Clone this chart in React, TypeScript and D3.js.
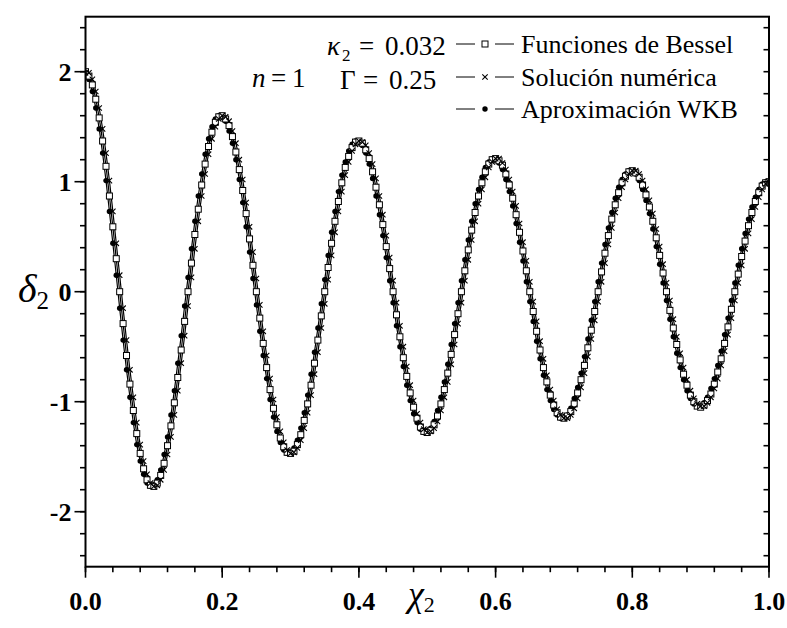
import React from 'react';
import * as d3 from 'd3';

// sampling grid of the horizontal variable χ2
const chi: number[] = d3.range(201).map((i) => +(i * 0.005).toFixed(3));

const bessel: number[] = [
  2.00, 1.96, 1.88, 1.75, 1.58, 1.37, 1.14, 0.87, 0.59, 0.30, 0, -0.29, -0.58, -0.84, -1.08, -1.29, -1.47, -1.61, -1.71, -1.76,
  -1.77, -1.74, -1.67, -1.56, -1.40, -1.22, -1.01, -0.78, -0.53, -0.27, 0, 0.26, 0.52, 0.75, 0.97, 1.16, 1.32, 1.45, 1.54, 1.59,
  1.60, 1.57, 1.51, 1.41, 1.27, 1.11, 0.92, 0.71, 0.48, 0.24, 0, -0.24, -0.47, -0.69, -0.89, -1.06, -1.21, -1.33, -1.41, -1.46,
  -1.47, -1.45, -1.39, -1.30, -1.17, -1.02, -0.85, -0.65, -0.44, -0.22, 0, 0.22, 0.44, 0.64, 0.82, 0.99, 1.13, 1.23, 1.31, 1.36,
  1.37, 1.35, 1.29, 1.21, 1.09, 0.95, 0.79, 0.61, 0.41, 0.21, 0, -0.21, -0.41, -0.60, -0.77, -0.92, -1.05, -1.15, -1.23, -1.27,
  -1.28, -1.26, -1.21, -1.13, -1.02, -0.89, -0.74, -0.57, -0.39, -0.20, 0, 0.19, 0.38, 0.56, 0.72, 0.87, 0.99, 1.09, 1.16, 1.20,
  1.21, 1.19, 1.15, 1.07, 0.97, 0.85, 0.70, 0.54, 0.37, 0.19, 0, -0.18, -0.36, -0.53, -0.69, -0.82, -0.94, -1.03, -1.10, -1.14,
  -1.15, -1.13, -1.09, -1.02, -0.92, -0.80, -0.67, -0.51, -0.35, -0.18, 0, 0.18, 0.35, 0.51, 0.66, 0.79, 0.90, 0.99, 1.05, 1.09,
  1.10, 1.08, 1.04, 0.97, 0.88, 0.77, 0.64, 0.49, 0.33, 0.17, 0, -0.17, -0.33, -0.48, -0.62, -0.75, -0.85, -0.94, -1.00, -1.04,
  -1.05, -1.03, -0.99, -0.93, -0.84, -0.73, -0.61, -0.47, -0.32, -0.16, 0, 0.16, 0.32, 0.46, 0.60, 0.72, 0.82, 0.90, 0.96, 0.99,
  1.00,
];

const numerica: number[] = [
  1.99, 1.99, 1.93, 1.82, 1.67, 1.48, 1.26, 1.01, 0.73, 0.44, 0.15, -0.15, -0.44, -0.71, -0.96, -1.19, -1.39, -1.54, -1.66, -1.74,
  -1.77, -1.76, -1.71, -1.62, -1.48, -1.32, -1.12, -0.90, -0.65, -0.40, -0.13, 0.13, 0.39, 0.64, 0.87, 1.07, 1.25, 1.39, 1.50, 1.57,
  1.60, 1.59, 1.55, 1.46, 1.35, 1.20, 1.02, 0.81, 0.59, 0.36, 0.12, -0.12, -0.36, -0.58, -0.79, -0.98, -1.14, -1.27, -1.37, -1.44,
  -1.47, -1.46, -1.42, -1.35, -1.24, -1.10, -0.94, -0.75, -0.55, -0.33, -0.11, 0.11, 0.33, 0.54, 0.73, 0.91, 1.06, 1.18, 1.28, 1.34,
  1.37, 1.36, 1.33, 1.26, 1.16, 1.03, 0.87, 0.70, 0.51, 0.31, 0.10, -0.10, -0.31, -0.50, -0.68, -0.85, -0.99, -1.11, -1.19, -1.25,
  -1.28, -1.27, -1.24, -1.18, -1.08, -0.96, -0.82, -0.66, -0.48, -0.29, -0.10, 0.10, 0.29, 0.47, 0.64, 0.80, 0.93, 1.04, 1.13, 1.18,
  1.21, 1.21, 1.17, 1.11, 1.02, 0.91, 0.78, 0.62, 0.45, 0.28, 0.09, -0.09, -0.27, -0.45, -0.61, -0.76, -0.89, -0.99, -1.07, -1.12,
  -1.15, -1.15, -1.12, -1.06, -0.97, -0.87, -0.74, -0.59, -0.43, -0.26, -0.09, 0.09, 0.26, 0.43, 0.58, 0.72, 0.85, 0.95, 1.02, 1.07,
  1.10, 1.10, 1.07, 1.01, 0.93, 0.83, 0.71, 0.57, 0.41, 0.25, 0.08, -0.08, -0.25, -0.41, -0.56, -0.69, -0.80, -0.90, -0.97, -1.02,
  -1.04, -1.04, -1.01, -0.96, -0.88, -0.79, -0.67, -0.54, -0.39, -0.24, -0.08, 0.08, 0.24, 0.39, 0.53, 0.66, 0.77, 0.86, 0.93, 0.98,
  1.00,
];

const wkb: number[] = [
  1.99, 1.93, 1.82, 1.67, 1.48, 1.26, 1.01, 0.73, 0.44, 0.15, -0.15, -0.44, -0.71, -0.96, -1.19, -1.39, -1.54, -1.66, -1.74, -1.77,
  -1.76, -1.71, -1.62, -1.48, -1.32, -1.12, -0.90, -0.65, -0.40, -0.13, 0.13, 0.39, 0.64, 0.87, 1.07, 1.25, 1.39, 1.50, 1.57, 1.60,
  1.59, 1.55, 1.46, 1.35, 1.20, 1.02, 0.81, 0.59, 0.36, 0.12, -0.12, -0.36, -0.58, -0.79, -0.98, -1.14, -1.27, -1.37, -1.44, -1.47,
  -1.46, -1.42, -1.35, -1.24, -1.10, -0.94, -0.75, -0.55, -0.33, -0.11, 0.11, 0.33, 0.54, 0.73, 0.91, 1.06, 1.18, 1.28, 1.34, 1.37,
  1.36, 1.33, 1.26, 1.16, 1.03, 0.87, 0.70, 0.51, 0.31, 0.10, -0.10, -0.31, -0.50, -0.68, -0.85, -0.99, -1.11, -1.19, -1.25, -1.28,
  -1.27, -1.24, -1.18, -1.08, -0.96, -0.82, -0.66, -0.48, -0.29, -0.10, 0.10, 0.29, 0.47, 0.64, 0.80, 0.93, 1.04, 1.13, 1.18, 1.21,
  1.21, 1.17, 1.11, 1.02, 0.91, 0.78, 0.62, 0.45, 0.28, 0.09, -0.09, -0.27, -0.45, -0.61, -0.76, -0.89, -0.99, -1.07, -1.12, -1.15,
  -1.15, -1.12, -1.06, -0.97, -0.87, -0.74, -0.59, -0.43, -0.26, -0.09, 0.09, 0.26, 0.43, 0.58, 0.72, 0.85, 0.95, 1.02, 1.07, 1.10,
  1.10, 1.07, 1.01, 0.93, 0.83, 0.71, 0.57, 0.41, 0.25, 0.08, -0.08, -0.25, -0.41, -0.56, -0.69, -0.80, -0.90, -0.97, -1.02, -1.04,
  -1.04, -1.01, -0.96, -0.88, -0.79, -0.67, -0.54, -0.39, -0.24, -0.08, 0.08, 0.24, 0.39, 0.53, 0.66, 0.77, 0.86, 0.93, 0.98, 1.00,
  1.00,
];

const xTicks = [0, 0.2, 0.4, 0.6, 0.8, 1.0];
const xTickLabels = ['0.0', '0.2', '0.4', '0.6', '0.8', '1.0'];
const yTicks = [-2, -1, 0, 1, 2];
const yTickLabels = ['-2', '-1', '0', '1', '2'];
const legendLabels = ['Funciones de Bessel', 'Solución numérica', 'Aproximación WKB'];
const annotation = { n: '1', kappa: '0.032', gamma: '0.25' };

const W = 787;
const H = 628;
const L = 85.5, R = 769, T = 16.7, B = 566.7;
const FONT = '"Liberation Serif", "Times New Roman", serif';

const x = d3.scaleLinear().domain([0, 1]).range([L, R]);
const y = d3.scaleLinear().domain([-2.5, 2.5]).range([B, T]);

const xMinor = d3.range(0, 1.0001, 0.04);
const yMinor = d3.range(-2.4, 2.4001, 0.2);

function Square({ cx, cy }: { cx: number; cy: number }) {
  return <rect x={cx - 3} y={cy - 3} width={6} height={6} fill="white" stroke="black" strokeWidth={1} />;
}
function Cross({ cx, cy }: { cx: number; cy: number }) {
  const s = 2.7;
  return <path d={`M${cx - s},${cy - s}L${cx + s},${cy + s}M${cx - s},${cy + s}L${cx + s},${cy - s}`} stroke="black" strokeWidth={1.1} />;
}
function Dot({ cx, cy }: { cx: number; cy: number }) {
  return <circle cx={cx} cy={cy} r={2.7} fill="black" />;
}

export default function App() {
  const line = d3
    .line<number>()
    .x((_, i) => x(chi[i]))
    .y((d) => y(d))
    .curve(d3.curveCatmullRom);

  const legendY = [44, 77, 109];

  return (
    <svg width={W} height={H} style={{ position: 'absolute', left: 0, top: 0, background: 'white' }} fontFamily={FONT}>
      <rect x={0} y={0} width={W} height={H} fill="white" />
      <defs>
        <clipPath id="plot">
          <rect x={L} y={T} width={R - L} height={B - T} />
        </clipPath>
      </defs>

      {/* curves */}
      <g clipPath="url(#plot)" fill="none" stroke="black" strokeWidth={1.2}>
        <path d={line(wkb) || ''} />
        <path d={line(bessel) || ''} />
        <path d={line(numerica) || ''} />
      </g>
      <g clipPath="url(#plot)">
        {wkb.map((v, i) => (
          <Dot key={'w' + i} cx={x(chi[i])} cy={y(v)} />
        ))}
        {bessel.map((v, i) => (
          <Square key={'b' + i} cx={x(chi[i])} cy={y(v)} />
        ))}
        {numerica.map((v, i) => (
          <Cross key={'n' + i} cx={x(chi[i])} cy={y(v)} />
        ))}
      </g>

      {/* frame */}
      <rect x={L} y={T} width={R - L} height={B - T} fill="none" stroke="black" strokeWidth={2} />

      {/* y ticks (left, outward) */}
      {yMinor.map((v, i) => (
        <line key={'ym' + i} x1={L - 5.5} x2={L} y1={y(v)} y2={y(v)} stroke="black" strokeWidth={1.6} />
      ))}
      {yTicks.map((v) => (
        <line key={'yM' + v} x1={L - 11} x2={L} y1={y(v)} y2={y(v)} stroke="black" strokeWidth={1.6} />
      ))}
      {/* right mirrored ticks (inward) */}
      {yMinor.map((v, i) => (
        <line key={'yr' + i} x1={R - 5.5} x2={R} y1={y(v)} y2={y(v)} stroke="black" strokeWidth={1.6} />
      ))}
      {yTicks.map((v, i) => (
        <text key={'yl' + v} x={L - 14} y={y(v) + 9} textAnchor="end" fontSize={26} fontWeight="bold">
          {yTickLabels[i]}
        </text>
      ))}

      {/* x ticks (bottom, outward) */}
      {xMinor.map((v, i) => (
        <line key={'xm' + i} x1={x(v)} x2={x(v)} y1={B} y2={B + 5.5} stroke="black" strokeWidth={1.6} />
      ))}
      {xTicks.map((v) => (
        <line key={'xM' + v} x1={x(v)} x2={x(v)} y1={B} y2={B + 11} stroke="black" strokeWidth={1.6} />
      ))}
      {xTicks.map((v, i) => (
        <text key={'xl' + v} x={x(v)} y={B + 43} textAnchor="middle" fontSize={26} fontWeight="bold">
          {xTickLabels[i]}
        </text>
      ))}

      {/* axis titles */}
      <text x={18} y={302} fontSize={40}>
        <tspan fontStyle="italic">δ</tspan>
        <tspan fontSize={25} dy={7}>2</tspan>
      </text>
      <text x={408} y={606} fontSize={36}>
        <tspan fontStyle="italic">χ</tspan>
        <tspan fontSize={22} dy={6}>2</tspan>
      </text>

      {/* annotation */}
      <g fontSize={27}>
        <text x={252} y={87} fontStyle="italic">n</text>
        <text x={271} y={87}>=</text>
        <text x={292} y={87}>{annotation.n}</text>

        <text x={327} y={55} fontStyle="italic">κ</text>
        <text x={342} y={61} fontSize={17}>2</text>
        <text x={359} y={55}>=</text>
        <text x={385} y={55}>{annotation.kappa}</text>

        <text x={340} y={89}>Γ</text>
        <text x={363} y={89}>=</text>
        <text x={389} y={89}>{annotation.gamma}</text>
      </g>

      {/* legend */}
      {legendLabels.map((lab, i) => {
        const cy = legendY[i];
        return (
          <g key={lab}>
            <line x1={456} x2={475} y1={cy} y2={cy} stroke="black" strokeWidth={1} />
            <line x1={495} x2={514} y1={cy} y2={cy} stroke="black" strokeWidth={1} />
            {i === 0 && <Square cx={485} cy={cy} />}
            {i === 1 && <Cross cx={485} cy={cy} />}
            {i === 2 && <Dot cx={485} cy={cy} />}
            <text x={521} y={cy + 9} fontSize={26}>
              {lab}
            </text>
          </g>
        );
      })}
    </svg>
  );
}
